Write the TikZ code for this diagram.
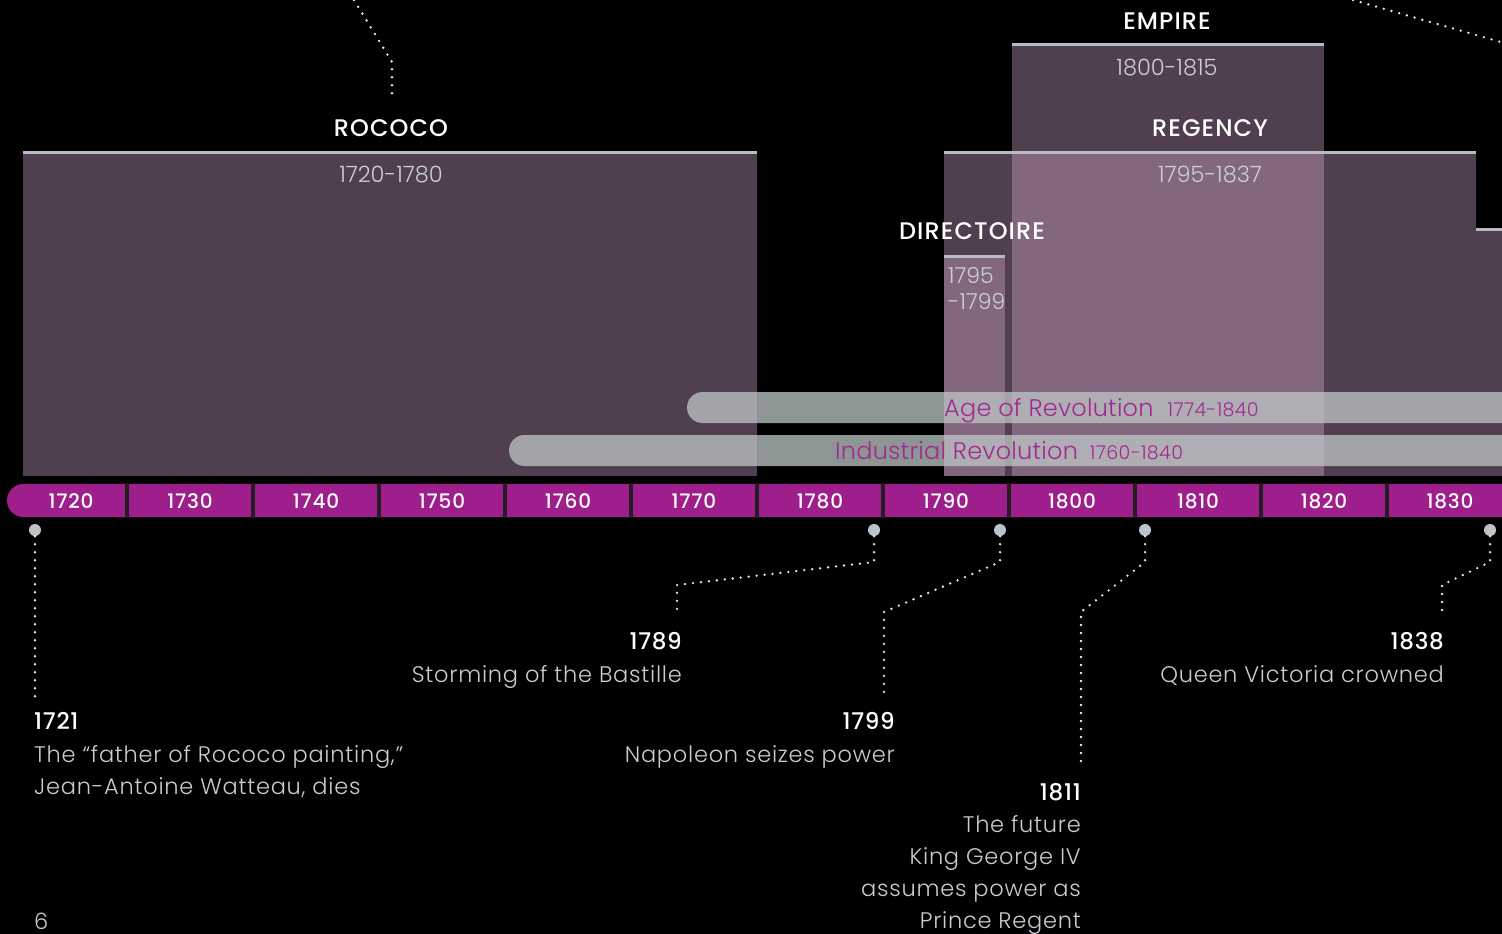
\documentclass[tikz,border=0pt]{standalone}
\usepackage{fontspec}
\setmainfont{Poppins}[UprightFont=* Light, BoldFont=* Medium]
\definecolor{boxpink}{RGB}{219,173,213}
\definecolor{topline}{RGB}{185,187,196}
\definecolor{bargrey}{RGB}{190,199,199}
\definecolor{magtext}{RGB}{163,40,143}
\definecolor{tlmag}{RGB}{158,31,140}
\definecolor{sepgrey}{RGB}{35,31,32}
\definecolor{dotgrey}{RGB}{188,195,201}
\definecolor{textgrey}{RGB}{200,205,210}
\definecolor{spangrey}{RGB}{205,207,215}
\tikzset{
  periodbox/.style={fill=boxpink, fill opacity=0.37},
  periodline/.style={draw=topline, line width=3pt},
  erabar/.style={fill=bargrey, fill opacity=0.75, rounded corners=15.5pt},
  bartext/.style={text=magtext, font=\fontsize{24}{26}\selectfont\addfontfeatures{LetterSpace=1}, inner sep=0pt},
  head/.style={text=white, font=\bfseries\fontsize{24}{26}\selectfont\addfontfeatures{LetterSpace=4.5}, inner sep=0pt, anchor=base},
  spanlbl/.style={text=spangrey, font=\fontsize{22.5}{26}\selectfont, inner sep=0pt, anchor=base},
  decade/.style={text=white, font=\bfseries\fontsize{20}{20}\selectfont\addfontfeatures{LetterSpace=4}, inner sep=0pt, anchor=base},
  evdot/.style={circle, fill=dotgrey, minimum size=12pt, inner sep=0pt},
  dotline/.style={draw=white!92!black, line width=2.6pt, line cap=round, dash pattern=on 0pt off 8pt},
  evyear/.style={text=white, font=\bfseries\fontsize{23}{26}\selectfont\addfontfeatures{LetterSpace=3}, inner sep=0pt},
  evtext/.style={text=textgrey, font=\fontsize{22.5}{32}\selectfont\addfontfeatures{LetterSpace=3.3}, inner sep=0pt},
}
\newcommand{\bardate}[1]{{\fontsize{19}{20}\selectfont\addfontfeatures{LetterSpace=2}#1}}
\begin{document}
\begin{tikzpicture}[x=1pt,y=-1pt]
\useasboundingbox (0,0) rectangle (1502,934);
\fill[black] (0,0) rectangle (1502,934);
\clip (0,0) rectangle (1502,934);

% period boxes
\fill[periodbox] (23,151) rectangle (757,476);
\fill[periodbox] (944,151) rectangle (1476,476);
\fill[periodbox] (1012,44) rectangle (1324,476);
\fill[periodbox] (944,255) rectangle (1005,476);
\fill[periodbox] (1476,228) rectangle (1540,476);
\draw[periodline] (23,152) -- (757,152);
\draw[periodline] (944,152) -- (1476,152);
\draw[periodline] (1012,45) -- (1324,45);
\draw[periodline] (944,256) -- (1005,256);
\draw[periodline] (1476,229) -- (1540,229);

% period labels
\node[head] (rococo) at (391,136) {ROCOCO};
\node[spanlbl] (rococoS) at (391,182) {1720-1780};
\node[head] (empire) at (1167,30) {EMPIRE};
\node[spanlbl] (empireS) at (1167,75) {1800-1815};
\node[head] (regency) at (1210,136) {REGENCY};
\node[spanlbl] (regencyS) at (1210,182) {1795-1837};
\node[head] (directoire) at (972,239) {DIRECTOIRE};
\node[spanlbl, anchor=north west, align=left, font=\fontsize{22}{26}\selectfont] (directoireS) at (948,267) {1795\\-1799};

% top dotted leaders
\coordinate (rtop) at (354,0);
\coordinate (rbend) at (392,62);
\coordinate (rend) at (392,100);
\draw[dotline] (rtop) -- (rbend) -- (rend);
\coordinate (vtop) at (1353,0);
\coordinate (vend) at (1504,43);
\draw[dotline] (vtop) -- (vend);

% era bars
\fill[erabar] (687,392) rectangle (1560,423);
\fill[erabar] (509,435) rectangle (1560,466);
\node[bartext, anchor=base west] (age) at (944,416) {Age of Revolution\hspace{14pt}\bardate{1774-1840}};
\node[bartext, anchor=base west] (ind) at (835,459) {Industrial Revolution\hspace{12pt}\bardate{1760-1840}};

% timeline
\fill[tlmag, rounded corners=16.5pt] (7,484) rectangle (1560,517);
\foreach \k in {0,...,10} \fill[sepgrey] ({127+126*\k-2.25},483) rectangle ({127+126*\k+2.25},518);
\node[decade] (dec1720) at (71,508) {1720};
\foreach \yr [count=\k] in {1730,1740,1750,1760,1770,1780,1790,1800,1810,1820,1830}
  \node[decade] (dec\yr) at ({190+126*(\k-1)},508) {\yr};

% event dots
\node[evdot] (d1721) at (35,530) {};
\node[evdot] (d1789) at (874,530) {};
\node[evdot] (d1799) at (1000,530) {};
\node[evdot] (d1811) at (1145,530) {};
\node[evdot] (d1838) at (1490,530) {};

% event texts
\node[evyear, anchor=base west] (y1721) at (34,729) {1721};
\node[evtext, anchor=north west, align=left] (t1721) at (34,745) {The “father of Rococo painting,”\\Jean-Antoine Watteau, dies};
\node[evyear, anchor=base east] (y1789) at (682,649) {1789};
\node[evtext, anchor=base east] (t1789) at (682,682) {Storming of the Bastille};
\node[evyear, anchor=base east] (y1799) at (895,729) {1799};
\node[evtext, anchor=base east] (t1799) at (895,762) {Napoleon seizes power};
\node[evyear, anchor=base east] (y1811) at (1081,800) {1811};
\node[evtext, anchor=north east, align=right] (t1811) at (1081,815) {The future\\King George IV\\assumes power as\\Prince Regent};
\node[evyear, anchor=base east] (y1838) at (1444,649) {1838};
\node[evtext, anchor=base east] (t1838) at (1444,682) {Queen Victoria crowned};
\node[evtext, anchor=base west] (page) at (34,929) {6};

% connectors
\coordinate (e1721) at (35,697);
\draw[dotline] (d1721) -- (e1721);
\coordinate (a1789) at (874,562);
\coordinate (b1789) at (677,585);
\coordinate (e1789) at (677,615);
\draw[dotline] (d1789) -- (a1789) -- (b1789) -- (e1789);
\coordinate (a1799) at (1000,562);
\coordinate (b1799) at (884,612);
\coordinate (e1799) at (884,695);
\draw[dotline] (d1799) -- (a1799) -- (b1799) -- (e1799);
\coordinate (a1811) at (1145,562);
\coordinate (b1811) at (1081,612);
\coordinate (e1811) at (1081,767);
\draw[dotline] (d1811) -- (a1811) -- (b1811) -- (e1811);
\coordinate (a1838) at (1490,562);
\coordinate (b1838) at (1442,585);
\coordinate (e1838) at (1442,615);
\draw[dotline] (d1838) -- (a1838) -- (b1838) -- (e1838);
\end{tikzpicture}
\end{document}
